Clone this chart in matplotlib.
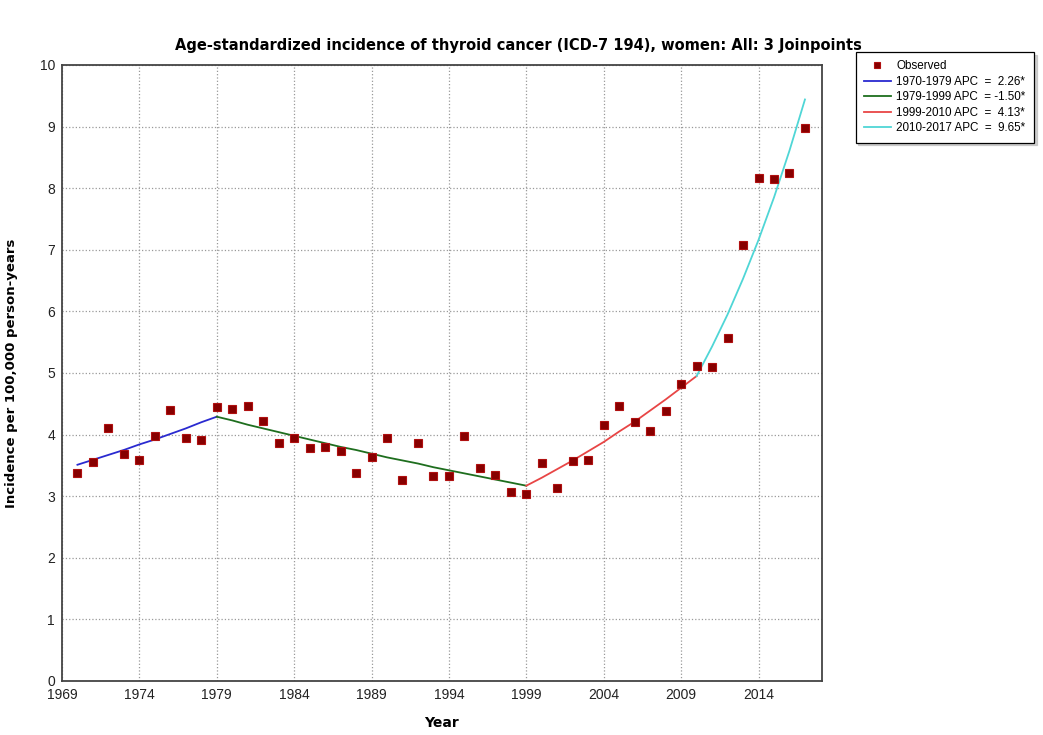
import matplotlib.pyplot as plt

# Observed age-standardized rates (per 100,000)
years = list(range(1970, 2018))
observed = [3.38, 3.56, 4.10, 3.68, 3.59, 3.97, 4.40, 3.94, 3.92, 4.44,
            4.42, 4.47, 4.22, 3.87, 3.95, 3.78, 3.80, 3.73, 3.38, 3.63,
            3.94, 3.27, 3.87, 3.33, 3.32, 3.97, 3.46, 3.34, 3.06, 3.04,
            3.54, 3.14, 3.57, 3.58, 4.16, 4.47, 4.20, 4.05, 4.38, 4.82,
            5.12, 5.10, 5.56, 7.08, 8.17, 8.15, 8.24, 8.97]

# Joinpoint segments (fitted values)
seg_years = [list(range(1970, 1980)), list(range(1979, 2000)),
             list(range(1999, 2011)), list(range(2010, 2018))]
seg_fit = [
    [3.51, 3.59, 3.67, 3.75, 3.84, 3.92, 4.01, 4.10, 4.20, 4.29],
    [4.29, 4.23, 4.16, 4.10, 4.04, 3.98, 3.92, 3.86, 3.80, 3.75, 3.69,
     3.63, 3.58, 3.53, 3.47, 3.42, 3.37, 3.32, 3.27, 3.22, 3.17],
    [3.17, 3.30, 3.44, 3.58, 3.73, 3.88, 4.05, 4.21, 4.39, 4.57, 4.76, 4.95],
    [4.95, 5.43, 5.95, 6.53, 7.16, 7.85, 8.61, 9.44],
]
seg_labels = ["1970-1979 APC  =  2.26*", "1979-1999 APC  = -1.50*",
              "1999-2010 APC  =  4.13*", "2010-2017 APC  =  9.65*"]
seg_colors = ["#2a2ad0", "#1e6e1e", "#e84545", "#4fd6d6"]

xticks = list(range(1969, 2018, 5))
yticks = list(range(0, 11))

plt.rcParams['font.family'] = ['Liberation Sans', 'DejaVu Sans']

fig = plt.figure(figsize=(10.43, 7.35), dpi=100)
ax = fig.add_axes([0.0594, 0.0735, 0.7287, 0.8381])

for ys, fs, lab, col in zip(seg_years, seg_fit, seg_labels, seg_colors):
    ax.plot(ys, fs, color=col, lw=1.3, label=lab, zorder=2)

ax.plot(years, observed, ls='none', marker='s', ms=6, mfc='#870000',
        mec='#b01010', mew=0.8, label='Observed', zorder=3)

ax.set_xlim(1969, 2018.1)
ax.set_ylim(0, 10)
ax.set_xticks(xticks)
ax.set_yticks(yticks)
ax.tick_params(length=0, labelsize=10, colors='#222222', pad=5)
ax.grid(True, ls=':', color='#999999', lw=0.9)
for s in ax.spines.values():
    s.set_color('#444444')
    s.set_linewidth(1.3)

ax.set_xlabel('Year', family='DejaVu Sans', fontweight='bold', fontsize=10, labelpad=10)
ax.set_ylabel('Incidence per 100,000 person-years', family='DejaVu Sans',
              fontweight='bold', fontsize=9.5)
ax.yaxis.set_label_coords(-0.058, 0.5)
fig.text(0.497, 0.932, 'Age-standardized incidence of thyroid cancer (ICD-7 194), women: All: 3 Joinpoints',
         ha='center', family='DejaVu Sans', fontweight='bold', fontsize=10.5)

h, l = ax.get_legend_handles_labels()
order = [4, 0, 1, 2, 3]
leg = fig.legend([h[i] for i in order], [l[i] for i in order],
                 loc='upper left', bbox_to_anchor=(0.818, 0.932),
                 fontsize=8.4, numpoints=1, handlelength=2.3, handletextpad=0.5,
                 labelspacing=0.3, borderpad=0.7, borderaxespad=0.2,
                 fancybox=False, edgecolor='black', framealpha=1,
                 shadow={'color': '#bbbbbb', 'alpha': 0.7, 'ox': 2, 'oy': -2})
leg.get_frame().set_linewidth(0.9)
leg.legend_handles[0].set_markersize(4)

fig.savefig('out.png', dpi=100)
